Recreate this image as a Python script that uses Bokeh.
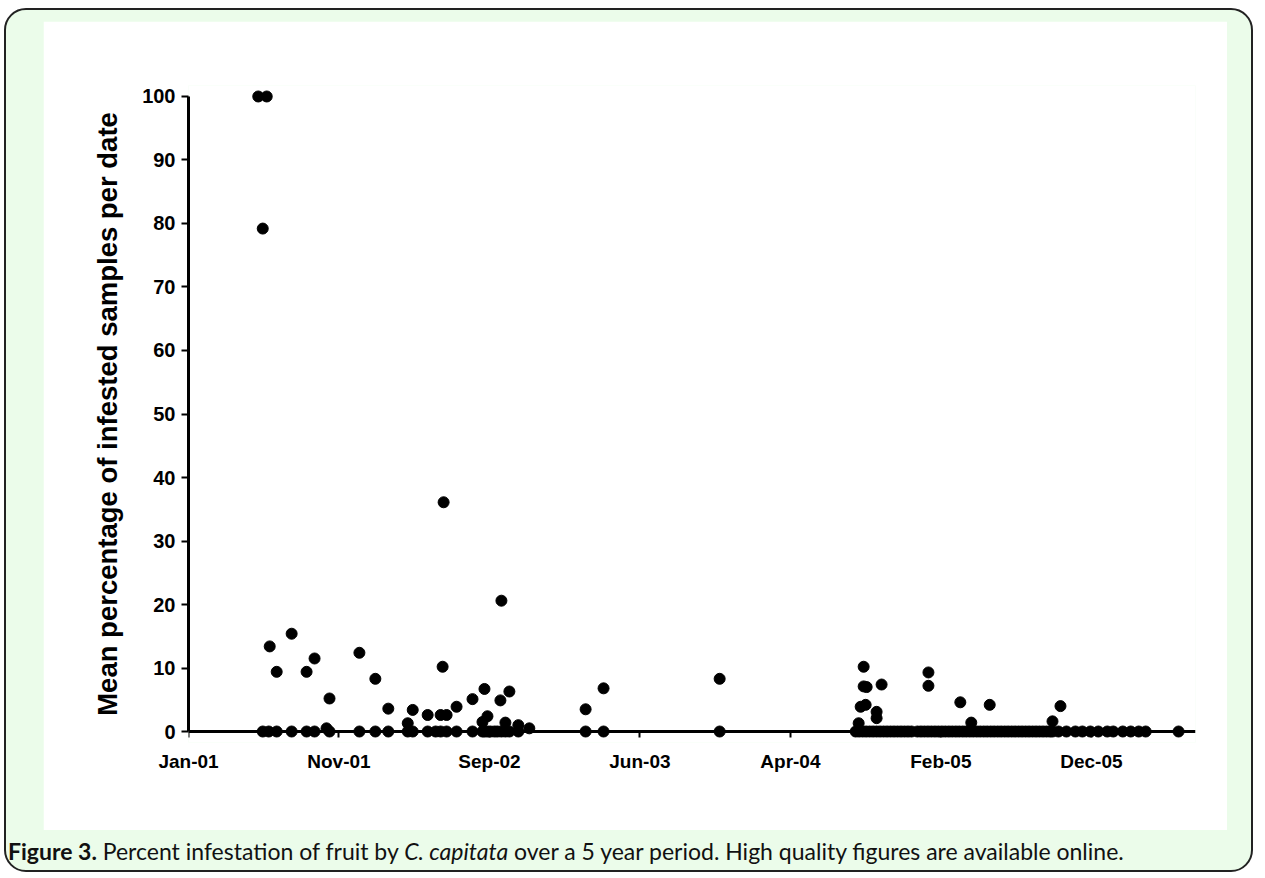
import pandas as pd
from bokeh.plotting import figure
from bokeh.models import FixedTicker, Div, LinearAxis
from bokeh.layouts import column
from bokeh.embed import file_html
from bokeh.resources import INLINE

# ---------------- data ----------------
axis_origin = "2001-01-01"
tick_step_days = 302
x_tick_labels = ["Jan-01", "Nov-01", "Sep-02", "Jun-03", "Apr-04", "Feb-05", "Dec-05"]
y_tick_values = [0, 10, 20, 30, 40, 50, 60, 70, 80, 90, 100]
x_end_days = 2021

samples_2001 = [
    ("2001-05-21", 100), ("2001-06-07", 100), ("2001-05-30", 79.2), ("2001-05-30", 0),
    ("2001-06-11", 0), ("2001-06-13", 13.4), ("2001-06-27", 9.4), ("2001-06-27", 0),
    ("2001-07-27", 15.4), ("2001-07-27", 0), ("2001-08-26", 9.4), ("2001-08-26", 0),
    ("2001-09-11", 11.5), ("2001-09-11", 0), ("2001-10-05", 0.5), ("2001-10-11", 5.2),
    ("2001-10-11", 0), ("2001-12-10", 12.4), ("2001-12-10", 0),
]

samples_2002 = [
    ("2002-01-11", 8.3), ("2002-01-11", 0), ("2002-02-06", 3.6), ("2002-02-06", 0),
    ("2002-03-17", 1.3), ("2002-03-17", 0), ("2002-03-27", 3.4), ("2002-03-27", 0),
    ("2002-04-26", 2.6), ("2002-04-26", 0), ("2002-05-12", 0), ("2002-05-22", 2.6),
    ("2002-05-22", 0), ("2002-05-26", 10.2), ("2002-05-28", 36.1), ("2002-06-03", 2.6),
    ("2002-06-03", 0), ("2002-06-23", 3.9), ("2002-06-23", 0), ("2002-07-25", 5.1),
    ("2002-07-25", 0), ("2002-08-14", 1.5), ("2002-08-14", 0), ("2002-08-18", 6.7),
    ("2002-08-18", 0), ("2002-08-24", 2.4), ("2002-08-24", 0), ("2002-08-30", 0),
    ("2002-09-07", 0), ("2002-09-13", 0), ("2002-09-19", 4.9), ("2002-09-21", 20.6),
    ("2002-09-21", 0), ("2002-09-29", 1.4), ("2002-09-29", 0), ("2002-10-07", 6.3),
    ("2002-10-07", 0), ("2002-10-25", 1.0), ("2002-10-25", 0), ("2002-11-16", 0.5),
]

samples_2003 = [
    ("2003-03-09", 3.5), ("2003-03-09", 0), ("2003-04-14", 6.8), ("2003-04-14", 0),
    ("2003-12-03", 8.3), ("2003-12-03", 0),
]

samples_2004_2006_positive = [
    ("2004-09-07", 1.3), ("2004-09-11", 3.9), ("2004-09-17", 10.2), ("2004-09-17", 7.1),
    ("2004-09-21", 4.2), ("2004-09-23", 7.0), ("2004-10-13", 3.1), ("2004-10-13", 2.1),
    ("2004-10-23", 7.4), ("2005-01-25", 9.3), ("2005-01-25", 7.2), ("2005-03-30", 4.6),
    ("2005-04-21", 1.4), ("2005-05-28", 4.2), ("2005-10-01", 1.6), ("2005-10-17", 4.0),
]

zero_dates_2004 = [
    "2004-09-01", "2004-09-08", "2004-09-15", "2004-09-22", "2004-09-29", "2004-10-06",
    "2004-10-13", "2004-10-20", "2004-10-27", "2004-11-03", "2004-11-10", "2004-11-17",
    "2004-11-24", "2004-12-01", "2004-12-08", "2004-12-15", "2004-12-22",
]
zero_dates_2005 = [
    "2005-01-03", "2005-01-10", "2005-01-17", "2005-01-24", "2005-01-31", "2005-02-07",
    "2005-02-14", "2005-02-21", "2005-02-28", "2005-03-07", "2005-03-14", "2005-03-21",
    "2005-03-28", "2005-04-04", "2005-04-11", "2005-04-18", "2005-04-25", "2005-05-02",
    "2005-05-09", "2005-05-16", "2005-05-23", "2005-05-30", "2005-06-06", "2005-06-13",
    "2005-06-20", "2005-06-27", "2005-07-04", "2005-07-11", "2005-07-18", "2005-07-25",
    "2005-08-01", "2005-08-08", "2005-08-15", "2005-08-22", "2005-08-29", "2005-09-05",
    "2005-09-12", "2005-09-19", "2005-09-26", "2005-10-01",
]
zero_dates_2005_2006 = [
    "2005-10-13", "2005-10-29", "2005-11-16", "2005-11-30", "2005-12-16", "2006-01-01",
    "2006-01-19", "2006-01-31", "2006-02-19", "2006-03-07", "2006-03-23", "2006-04-06",
    "2006-06-11",
]

# ---------------- assemble ----------------
pairs = samples_2001 + samples_2002 + samples_2003 + samples_2004_2006_positive
pairs += [(d, 0) for d in zero_dates_2004 + zero_dates_2005 + zero_dates_2005_2006]
df = pd.DataFrame(pairs, columns=["date", "pct"])
df["days"] = (pd.to_datetime(df["date"]) - pd.Timestamp(axis_origin)).dt.days

tick_positions = [i * tick_step_days for i in range(len(x_tick_labels))]

p = figure(width=1184, height=809, x_range=(0, x_end_days), y_range=(-1.73, 101.73),
           x_axis_location=None, output_backend="svg", toolbar_location=None,
           min_border_left=145, min_border_right=32, min_border_top=64, min_border_bottom=88,
           background_fill_color="white", border_fill_color="white")
p.margin = (11, 0, 0, 37)
p.grid.visible = False
p.outline_line_color = None

p.scatter(x=df["days"], y=df["pct"], size=11, color="black", marker="circle")

FONT = "Liberation Sans"

# axis line + ticks drawn at y = 0 (through the zero points)
x_line = LinearAxis(ticker=FixedTicker(ticks=tick_positions), fixed_location=0,
                    axis_line_width=3, axis_line_color="black",
                    major_tick_line_width=2, major_tick_in=6, major_tick_out=0,
                    minor_tick_line_color=None,
                    major_label_text_color=None, major_label_text_font_size="1px")
p.add_layout(x_line, "above")

# tick labels below the frame
x_lab = LinearAxis(ticker=FixedTicker(ticks=tick_positions),
                   axis_line_color=None, major_tick_line_color=None,
                   minor_tick_line_color=None, major_tick_out=0, major_tick_in=0,
                   major_label_standoff=8,
                   major_label_overrides={pos: lab for pos, lab in zip(tick_positions, x_tick_labels)},
                   major_label_text_font=FONT, major_label_text_font_style="bold",
                   major_label_text_font_size="19px", major_label_text_color="black")
p.add_layout(x_lab, "below")

ya = p.yaxis[0]
ya.ticker = FixedTicker(ticks=y_tick_values)
ya.bounds = (0, 100)
ya.axis_line_width = 3
ya.axis_line_color = "black"
ya.major_tick_line_width = 2
ya.major_tick_out = 7
ya.major_tick_in = 0
ya.minor_tick_line_color = None
ya.major_label_standoff = 6
ya.major_label_text_font = FONT
ya.major_label_text_font_style = "bold"
ya.major_label_text_font_size = "20px"
ya.major_label_text_color = "black"
ya.axis_label = "Mean percentage of infested samples per date"
ya.axis_label_text_font = FONT
ya.axis_label_text_font_style = "bold"
ya.axis_label_text_font_size = "27.5px"
ya.axis_label_text_color = "black"
ya.axis_label_standoff = 16

caption = Div(
    text='<span style="font-weight:bold">Figure 3.</span> Percent infestation of fruit by '
         '<i>C. capitata</i> over a 5 year period. High quality figures are available online.',
    styles={"font-family": "Lato", "font-size": "23px", "color": "#111", "white-space": "nowrap"},
    margin=(5, 0, 0, 2),
)

layout = column(p, caption, width=1249, height=864, margin=(8, 0, 0, 4),
                styles={"background-color": "#ebfcea", "border": "2px solid #222",
                        "border-radius": "22px", "box-sizing": "border-box"})

open("out.html", "w").write(file_html(layout, INLINE))
